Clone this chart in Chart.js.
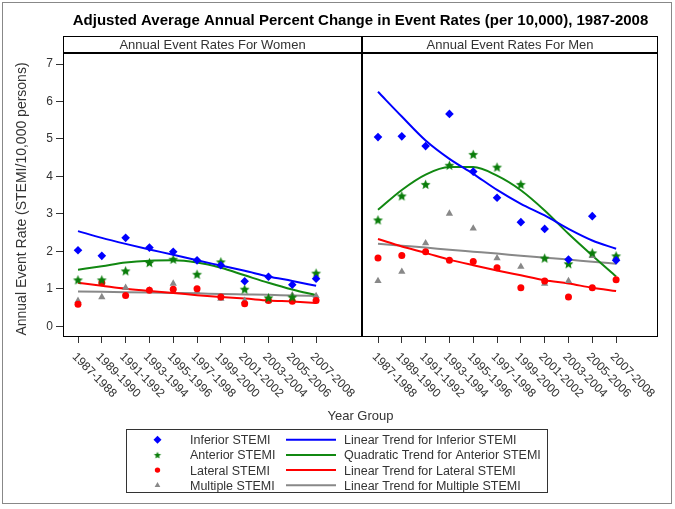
<!DOCTYPE html>
<html>
<head>
<meta charset="utf-8">
<script src="https://cdn.jsdelivr.net/npm/chart.js@4.4.1/dist/chart.umd.min.js"></script>
<style>
  html, body { margin: 0; padding: 0; background: #fff; }
</style>
</head>
<body>
<canvas id="chart" width="675" height="509"></canvas>
<script>
// --- data ---
const yearGroups = ['1987-1988', '1989-1990', '1991-1992', '1993-1994', '1995-1996', '1997-1998',
                    '1999-2000', '2001-2002', '2003-2004', '2005-2006', '2007-2008'];
const panelTitles = ['Annual Event Rates For Women', 'Annual Event Rates For Men'];

const womenInferior = [2.03, 1.88, 2.36, 2.10, 1.99, 1.76, 1.63, 1.20, 1.32, 1.11, 1.27];
const womenAnterior = [1.24, 1.24, 1.48, 1.70, 1.79, 1.39, 1.72, 0.99, 0.76, 0.78, 1.42];
const womenLateral  = [0.59, 1.16, 0.82, 0.96, 0.99, 1.00, 0.78, 0.60, 0.69, 0.67, 0.69];
const womenMultiple = [0.68, 0.78, 1.03, 0.96, 1.14, 0.92, 0.74, 0.68, 0.69, 0.83, 0.81];

const womenInferiorTrend = [2.54, 2.36, 2.20, 2.05, 1.91, 1.76, 1.62, 1.48, 1.33, 1.21, 1.08];
const womenAnteriorTrend = [1.51, 1.60, 1.70, 1.75, 1.76, 1.70, 1.56, 1.36, 1.16, 0.98, 0.83];
const womenLateralTrend  = [1.16, 1.08, 1.00, 0.94, 0.89, 0.83, 0.78, 0.74, 0.69, 0.66, 0.62];
const womenMultipleTrend = [0.93, 0.92, 0.91, 0.90, 0.89, 0.88, 0.86, 0.85, 0.84, 0.82, 0.81];

const menInferior = [5.05, 5.07, 4.81, 5.67, 4.13, 3.43, 2.78, 2.60, 1.78, 2.94, 1.76];
const menAnterior = [2.84, 3.48, 3.79, 4.30, 4.59, 4.25, 3.79, 1.82, 1.67, 1.96, 1.88];
const menLateral  = [1.82, 1.89, 1.99, 1.76, 1.73, 1.56, 1.03, 1.21, 0.78, 1.03, 1.24];
const menMultiple = [1.21, 1.46, 2.22, 3.01, 2.61, 1.82, 1.59, 1.14, 1.21, 1.88, 1.85];

const menInferiorTrend = [6.26, 5.60, 4.96, 4.47, 4.07, 3.64, 3.27, 2.96, 2.60, 2.29, 2.07];
const menAnteriorTrend = [3.11, 3.64, 4.05, 4.25, 4.25, 4.02, 3.63, 3.09, 2.47, 1.89, 1.33];
const menLateralTrend  = [2.33, 2.13, 1.96, 1.78, 1.63, 1.49, 1.36, 1.23, 1.14, 1.03, 0.94];
const menMultipleTrend = [2.20, 2.15, 2.10, 2.04, 1.99, 1.94, 1.88, 1.83, 1.78, 1.72, 1.67];

const yTicks = [0, 1, 2, 3, 4, 5, 6, 7];

// --- layout of the two panels on one linear x scale ---
const panelStart = [0, 12.6];   // x of the first year group in each panel
const dividerX = 11.93;
const xMin = -0.63, xMax = 24.36;
const yMin = -0.26, yMax = 7.75, headerY = 7.30;

const FONT = '"Liberation Sans", Arial, sans-serif';
const TEXT = '#333';

function positions(p) { return yearGroups.map((g, i) => panelStart[p] + i); }
function toXY(p, vals) { return vals.map((v, i) => ({ x: panelStart[p] + i, y: v })); }

// filled five point star for the anterior markers
function makeStar(r, color) {
  const c = document.createElement('canvas');
  const s = Math.ceil(r * 2) + 2;
  c.width = s; c.height = s;
  const g = c.getContext('2d');
  g.fillStyle = color;
  g.beginPath();
  for (let i = 0; i < 10; i++) {
    const rad = i % 2 ? r * 0.45 : r;
    const a = -Math.PI / 2 + i * Math.PI / 5;
    g.lineTo(s / 2 + rad * Math.cos(a), s / 2 + 0.5 + rad * Math.sin(a));
  }
  g.closePath();
  g.fill();
  return c;
}
const star = makeStar(5.2, '#0a7d0a');
const legendStar = makeStar(3.8, '#0a7d0a');

const series = [
  { name: 'Inferior STEMI', style: 'rectRot', color: '#0000ff', r: 4.3, lr: 4, data: [womenInferior, menInferior] },
  { name: 'Anterior STEMI', style: star, color: '#0a7d0a', r: 5, lr: 0, data: [womenAnterior, menAnterior] },
  { name: 'Lateral STEMI', style: 'circle', color: '#ff0000', r: 3.5, lr: 2.7, data: [womenLateral, menLateral] },
  { name: 'Multiple STEMI', style: 'triangle', color: '#888888', r: 4.2, lr: 3.3, data: [womenMultiple, menMultiple] }
];
const trends = [
  { name: 'Linear Trend for Inferior STEMI', color: '#0000ff', data: [womenInferiorTrend, menInferiorTrend] },
  { name: 'Quadratic Trend for Anterior STEMI', color: '#118811', data: [womenAnteriorTrend, menAnteriorTrend] },
  { name: 'Linear Trend for Lateral STEMI', color: '#ff0000', data: [womenLateralTrend, menLateralTrend] },
  { name: 'Linear Trend for Multiple STEMI', color: '#888888', data: [womenMultipleTrend, menMultipleTrend] }
];

const datasets = [];
series.forEach(s => {
  [0, 1].forEach(p => {
    datasets.push({
      data: toXY(p, s.data[p]),
      showLine: false,
      pointStyle: s.style,
      pointRadius: s.r,
      pointBackgroundColor: s.color,
      pointBorderColor: s.color,
      pointBorderWidth: 0,
      order: 0
    });
  });
});
trends.forEach(t => {
  [0, 1].forEach(p => {
    datasets.push({
      data: toXY(p, t.data[p]),
      borderColor: t.color,
      borderWidth: 2,
      pointRadius: 0,
      cubicInterpolationMode: 'monotone',
      order: 1
    });
  });
});

// frame, panel headers, rotated labels, titles and legend
const decor = {
  id: 'decor',
  afterDraw(chart) {
    const ctx = chart.ctx;
    const a = chart.chartArea;
    const xs = chart.scales.x, ys = chart.scales.y;
    const dx = xs.getPixelForValue(dividerX);
    const hy = ys.getPixelForValue(headerY);
    ctx.save();

    // outer frame
    ctx.strokeStyle = '#888';
    ctx.lineWidth = 1;
    ctx.strokeRect(2.5, 2.5, 669, 501);

    // plot box
    ctx.strokeStyle = '#000';
    ctx.lineWidth = 1;
    ctx.strokeRect(Math.round(a.left) + 0.5, Math.round(a.top) + 0.5,
                   Math.round(a.right - a.left) - 1, Math.round(a.bottom - a.top));
    ctx.lineWidth = 2;
    ctx.beginPath();
    ctx.moveTo(a.left, Math.round(hy)); ctx.lineTo(a.right, Math.round(hy));
    ctx.moveTo(Math.round(dx), a.top); ctx.lineTo(Math.round(dx), a.bottom);
    ctx.stroke();

    // panel headers
    ctx.fillStyle = TEXT;
    ctx.font = '13px ' + FONT;
    ctx.textAlign = 'center';
    ctx.textBaseline = 'middle';
    ctx.fillText(panelTitles[0], (a.left + dx) / 2, (a.top + hy) / 2 + 1);
    ctx.fillText(panelTitles[1], (dx + a.right) / 2, (a.top + hy) / 2 + 1);

    // title
    ctx.fillStyle = '#000';
    ctx.font = 'bold 15px ' + FONT;
    ctx.fillText('Adjusted Average Annual Percent Change in Event Rates (per 10,000), 1987-2008',
                 (a.left + a.right) / 2, 21);

    // rotated year group labels
    ctx.fillStyle = TEXT;
    ctx.font = '12px ' + FONT;
    ctx.textAlign = 'left';
    [0, 1].forEach(p => {
      positions(p).forEach((v, i) => {
        const px = xs.getPixelForValue(v);
        ctx.save();
        ctx.translate(px - 4, a.bottom + 19);
        ctx.rotate(Math.PI / 4);
        ctx.fillText(yearGroups[i], 0, 0);
        ctx.restore();
      });
    });

    // axis titles
    ctx.font = '13px ' + FONT;
    ctx.textAlign = 'center';
    ctx.fillText('Year Group', (a.left + a.right) / 2, 416);
    ctx.save();
    ctx.font = '14px ' + FONT;
    ctx.translate(22, (a.top + a.bottom) / 2 + 13);
    ctx.rotate(-Math.PI / 2);
    ctx.fillText('Annual Event Rate (STEMI/10,000 persons)', 0, 0);
    ctx.restore();

    // legend
    ctx.strokeStyle = '#333';
    ctx.lineWidth = 1;
    ctx.strokeRect(126.5, 429.5, 421, 63);
    ctx.font = '12.5px ' + FONT;
    ctx.textAlign = 'left';
    series.forEach((s, i) => {
      const y = 439.7 + i * 15.2;
      if (s.lr) {
        ctx.fillStyle = s.color;
        Chart.helpers.drawPoint(ctx, { pointStyle: s.style, radius: s.lr, borderWidth: 0 }, 157.5, y);
      } else {
        ctx.drawImage(legendStar, 157.5 - legendStar.width / 2, y - legendStar.height / 2);
      }
      ctx.fillStyle = TEXT;
      ctx.fillText(s.name, 190, y + 1);
      ctx.strokeStyle = trends[i].color;
      ctx.lineWidth = 2;
      ctx.beginPath();
      ctx.moveTo(286, y); ctx.lineTo(336, y);
      ctx.stroke();
      ctx.fillText(trends[i].name, 344, y + 1);
    });

    ctx.restore();
  }
};

new Chart(document.getElementById('chart'), {
  type: 'line',
  data: { datasets: datasets },
  options: {
    responsive: false,
    animation: false,
    devicePixelRatio: 1,
    layout: { padding: { left: 0, top: 36, right: 17, bottom: 165 } },
    plugins: { legend: { display: false }, tooltip: { enabled: false } },
    scales: {
      x: {
        type: 'linear',
        min: xMin,
        max: xMax,
        border: { display: false },
        grid: { drawOnChartArea: false, drawTicks: true, tickLength: 7, color: '#333' },
        ticks: { display: false },
        afterBuildTicks: scale => {
          scale.ticks = positions(0).concat(positions(1)).map(v => ({ value: v }));
        },
        afterFit: scale => { scale.height = 8; }
      },
      y: {
        min: yMin,
        max: yMax,
        border: { display: false },
        grid: { drawOnChartArea: false, drawTicks: true, tickLength: 7, color: '#333' },
        ticks: { color: TEXT, font: { family: FONT, size: 12 }, padding: 3 },
        afterBuildTicks: scale => {
          scale.ticks = yTicks.map(v => ({ value: v }));
        },
        afterFit: scale => { scale.width = 63; }
      }
    }
  },
  plugins: [decor]
});
</script>
</body>
</html>
